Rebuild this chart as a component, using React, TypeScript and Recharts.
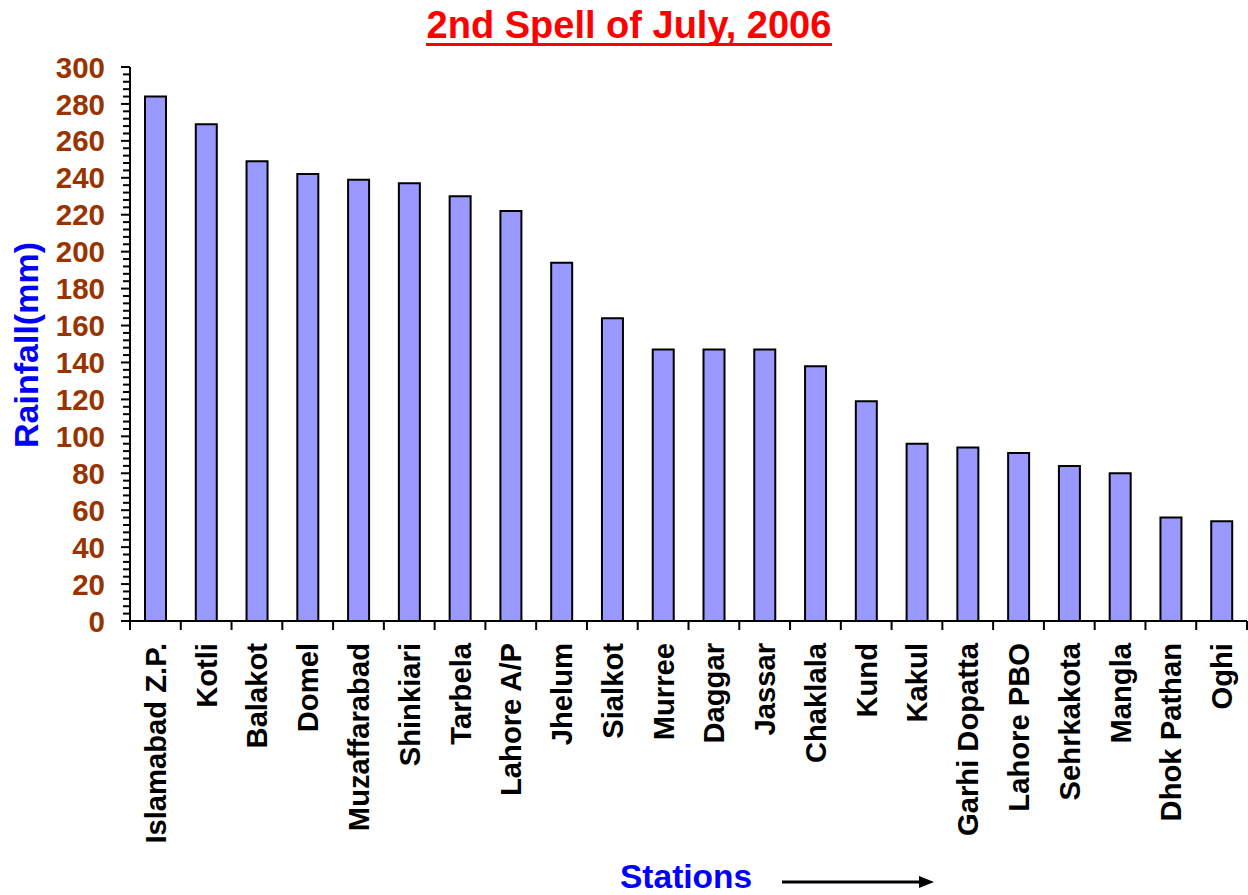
import { BarChart, Bar, XAxis, YAxis } from 'recharts'

const stations = [
  'Islamabad Z.P.', 'Kotli', 'Balakot', 'Domel', 'Muzaffarabad', 'Shinkiari',
  'Tarbela', 'Lahore A/P', 'Jhelum', 'Sialkot', 'Murree', 'Daggar', 'Jassar',
  'Chaklala', 'Kund', 'Kakul', 'Garhi Dopatta', 'Lahore PBO', 'Sehrkakota',
  'Mangla', 'Dhok Pathan', 'Oghi',
]

const rainfall = [
  284, 269, 249, 242, 239, 237, 230, 222, 194, 164, 147, 147, 147,
  138, 119, 96, 94, 91, 84, 80, 56, 54,
]

const yLabels = [0, 20, 40, 60, 80, 100, 120, 140, 160, 180, 200, 220, 240, 260, 280, 300]
const minorStep = 4

const data = stations.map((name, i) => ({ name, rain: rainfall[i] }))

const yTicks: number[] = []
for (let v = 0; v <= 300; v += minorStep) yTicks.push(v)

const FONT = 'Arial, "Liberation Sans", sans-serif'
const W = 1248
const H = 895
const LEFT = 130
const RIGHT = 1
const band = (W - LEFT - RIGHT) / stations.length

function YTick(props: any) {
  const { x, y, payload } = props
  const major = yLabels.includes(payload.value)
  return (
    <g>
      <line x1={x - (major ? 9 : 7)} x2={x} y1={y} y2={y} stroke="#000" strokeWidth={2} />
      {major && (
        <text
          x={x - 25}
          y={y}
          dy="0.36em"
          textAnchor="end"
          fill="#993300"
          fontSize={29.5}
          fontWeight="bold"
          fontFamily={FONT}
        >
          {payload.value}
        </text>
      )}
    </g>
  )
}

function XTick(props: any) {
  const { x, y, payload, index } = props
  const half = band / 2
  const last = index === stations.length - 1
  return (
    <g>
      <line x1={x - half} x2={x - half} y1={y} y2={y + 9} stroke="#000" strokeWidth={2} />
      {last && <line x1={x + half} x2={x + half} y1={y} y2={y + 9} stroke="#000" strokeWidth={2} />}
      <text
        x={x}
        y={y + 22}
        dy="0.36em"
        transform={`rotate(-90, ${x}, ${y + 22})`}
        textAnchor="end"
        fill="#000"
        fontSize={29.2}
        fontWeight="bold"
        fontFamily={FONT}
      >
        {payload.value}
      </text>
    </g>
  )
}

export default function App() {
  return (
    <div style={{ position: 'absolute', left: 0, top: 0, width: W, height: H, background: '#fff' }}>
      <BarChart
        width={W}
        height={H}
        data={data}
        margin={{ top: 67, right: RIGHT, left: 0, bottom: 44 }}
        barSize={21}
      >
        <XAxis
          dataKey="name"
          interval={0}
          height={230}
          tickSize={0}
          tickMargin={0}
          tickLine={false}
          axisLine={{ stroke: '#000', strokeWidth: 2 }}
          tick={<XTick />}
        />
        <YAxis
          width={LEFT}
          domain={[0, 300]}
          ticks={yTicks}
          interval={0}
          tickSize={0}
          tickMargin={0}
          tickLine={false}
          axisLine={{ stroke: '#000', strokeWidth: 2 }}
          tick={<YTick />}
        />
        <Bar dataKey="rain" fill="#9999FF" stroke="#000" strokeWidth={2} isAnimationActive={false} />
      </BarChart>
      <svg
        width={W}
        height={H}
        style={{ position: 'absolute', left: 0, top: 0, pointerEvents: 'none' }}
      >
        {/* title with a solid underline drawn below the descenders */}
        <text
          x={629}
          y={38}
          textAnchor="middle"
          fill="#FF0000"
          fontSize={38}
          fontWeight="bold"
          fontFamily={FONT}
        >
          2nd Spell of July, 2006
        </text>
        <line x1={426} x2={832} y1={44.5} y2={44.5} stroke="#FF0000" strokeWidth={3} />
        <text
          transform="translate(38, 345) rotate(-90)"
          textAnchor="middle"
          fill="#0000FF"
          fontSize={34}
          fontWeight="bold"
          fontFamily={FONT}
        >
          Rainfall(mm)
        </text>
        <text x={620} y={888} fill="#0000FF" fontSize={33.5} fontWeight="bold" fontFamily={FONT}>
          Stations
        </text>
        <line x1={782} x2={921} y1={882} y2={882} stroke="#000" strokeWidth={3} />
        <polygon points="919,876 934,882 919,888" fill="#000" />
      </svg>
    </div>
  )
}
